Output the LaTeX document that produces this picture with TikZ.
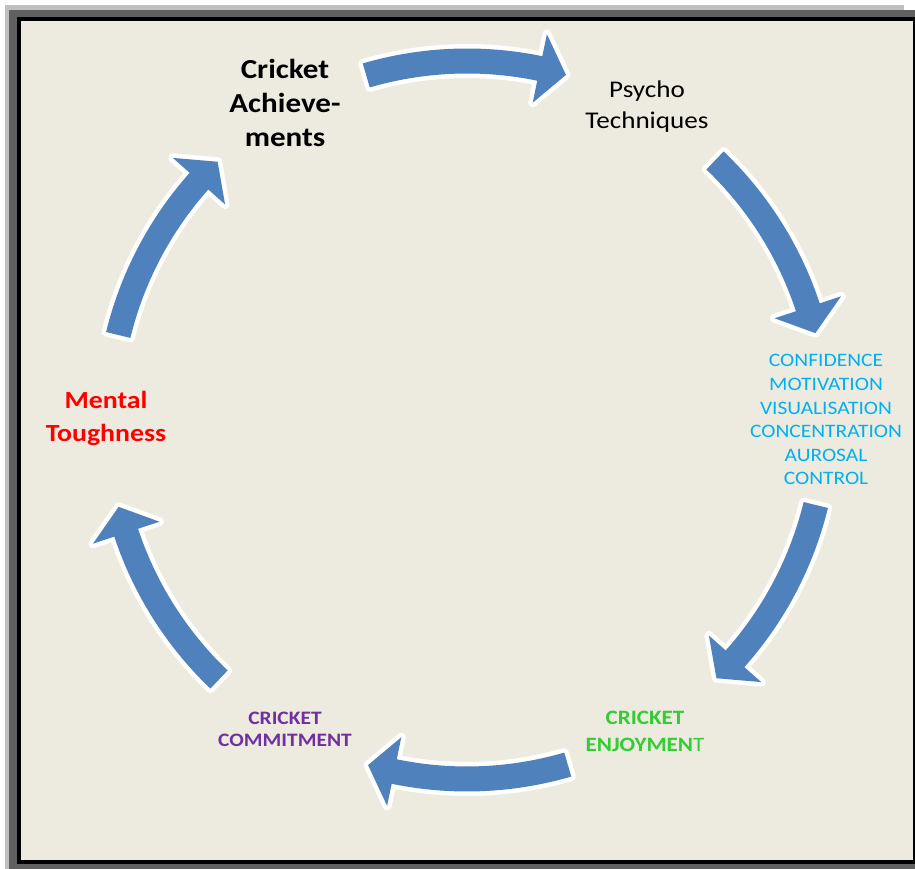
\documentclass[tikz,border=0pt]{standalone}
\usepackage{fontspec}
\setmainfont{Carlito}[FakeStretch=1.13]
\usetikzlibrary{calc}
\definecolor{shadowlight}{RGB}{191,191,191}
\definecolor{shadowdark}{RGB}{96,96,96}
\definecolor{paper}{RGB}{237,235,224}
\definecolor{arrowblue}{RGB}{79,129,189}
\definecolor{listcyan}{RGB}{0,176,240}
\definecolor{joygreen}{RGB}{50,205,50}
\definecolor{commitpurple}{RGB}{112,48,160}
\begin{document}
\begin{tikzpicture}[x=1pt,y=1pt,
  cyclearrow/.style={fill=arrowblue,
    preaction={draw=white,line width=9,line join=round}},
  lbl/.style={align=center,inner sep=0pt,anchor=base}]
\useasboundingbox (0,0) rectangle (915,869);
% framed panel with its shadow
\fill[shadowlight] (5,0) rectangle (904,864);
\fill[shadowdark] (9,0) rectangle (915,859);
\fill[black] (17,5) rectangle (915,852);
\fill[paper] (21,9) rectangle (913,848);

% six curved block arrows running clockwise round the cycle
\coordinate (O) at (467,449);
\foreach \a in {90,30,-30,-90,-150,150}{
  \path[cyclearrow]
    ($(O)+(\a+16.3:371.5)$) arc[start angle=\a+16.3, end angle=\a-11.7, radius=371.5]
    -- ($(O)+(\a-11.7:394)$)
    -- ($(O)+(\a-16:359)$)
    -- ($(O)+(\a-11.7:324)$)
    -- ($(O)+(\a-11.7:346.5)$)
    arc[start angle=\a-11.7, end angle=\a+16.3, radius=346.5]
    -- cycle;
}

% stage labels (anchored on the baseline of their last line)
\node[lbl,font=\fontsize{27.5}{34}\selectfont\bfseries] (achieve) at (285,722)
  {Cricket\\Achieve-\\ments};
\node[lbl,font=\fontsize{24}{31}\selectfont] (psycho) at (647,740)
  {Psycho\\Techniques};
\node[lbl,font=\fontsize{19}{23.6}\selectfont,text=listcyan] (skills) at (826,384)
  {CONFIDENCE\\MOTIVATION\\VISUALISATION\\CONCENTRATION\\AUROSAL\\CONTROL};
\node[lbl,font=\fontsize{20.4}{27}\selectfont\bfseries,text=joygreen] (enjoy) at (645,117)
  {CRICKET\\ENJOYMEN{\mdseries T}};
\node[lbl,font=\fontsize{19}{22}\selectfont\bfseries,text=commitpurple] (commit) at (285,122)
  {CRICKET\\COMMITMENT};
\node[lbl,font=\fontsize{24.6}{33}\selectfont\bfseries,text=red] (mental) at (106,427)
  {Mental\\Toughness};
\end{tikzpicture}
\end{document}
